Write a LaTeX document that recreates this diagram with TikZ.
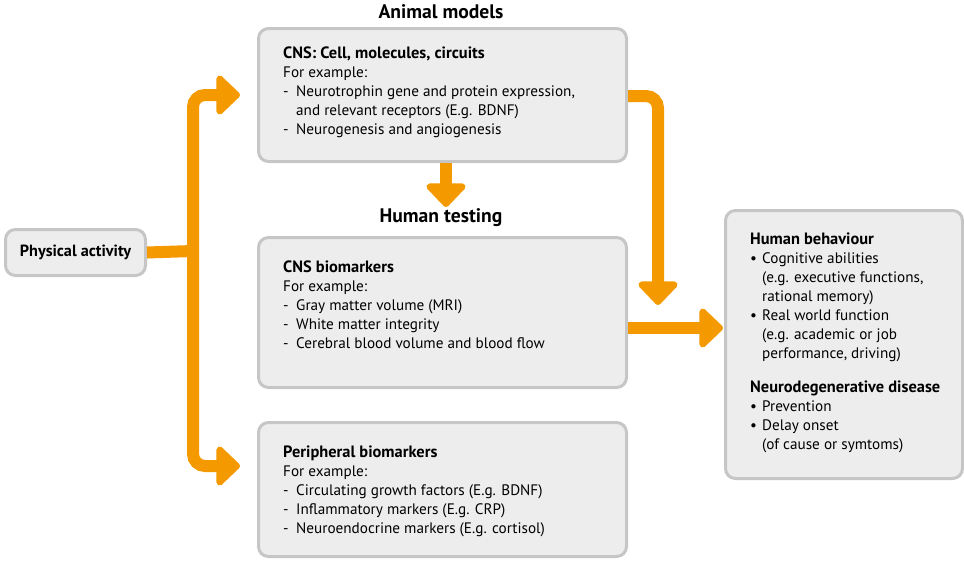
\documentclass[tikz,border=0pt]{standalone}
\usepackage{fontspec}
\setmainfont{PT Sans}
\usetikzlibrary{arrows.meta}
\definecolor{orng}{HTML}{F49A00}
\definecolor{boxline}{HTML}{C6C6C6}
\definecolor{boxfill}{HTML}{EDEDED}
\tikzset{
  box/.style={draw=boxline, line width=3pt, fill=boxfill, rounded corners=10pt, anchor=north west, inner sep=0pt},
  txt/.style={anchor=base west, align=left, inner sep=0pt, font=\fontsize{15.2}{19}\selectfont},
  ttl/.style={inner sep=0pt, font=\fontsize{19.6}{22}\selectfont\bfseries},
  flow/.style={draw=orng, line width=12pt, rounded corners=12pt},
  tip/.style={-{Triangle[width=46pt,length=25pt,round]}},
}
\newcommand{\dsh}{\makebox[13pt][l]{-}}
\newcommand{\ind}{\hspace*{13pt}}
\newcommand{\bul}{\makebox[12pt][l]{\textbullet}}
\newcommand{\indb}{\hspace*{12pt}}
\newcommand{\hd}[1]{{\fontsize{16.4}{19}\selectfont\bfseries #1}}
\begin{document}
\begin{tikzpicture}[x=1pt,y=-1pt]
\useasboundingbox (0,0) rectangle (964,560);
% boxes
\node[box, minimum width=140pt, minimum height=46pt] (phys) at (4,228) {};
\node[font=\fontsize{16.2}{17}\selectfont\bfseries, inner sep=0pt] (physt) at (phys.center) {Physical activity};
\node[box, minimum width=368pt, minimum height=133pt] (animal) at (257,27) {};
\node[box, minimum width=368pt, minimum height=150pt] (cnsb) at (257,236) {};
\node[box, minimum width=368pt, minimum height=134pt] (peri) at (257,421) {};
\node[box, minimum width=237pt, minimum height=268pt] (human) at (724,209) {};
% titles
\node[ttl] (t1) at (441,12) {Animal models};
\node[ttl] (t2) at (441,218) {Human testing};
% texts (anchored at the baseline of the last line)
\node[txt] (a1) at (283,134) {\hd{CNS: Cell, molecules, circuits}\\
For example:\\
\dsh Neurotrophin gene and protein expression,\\
\ind and relevant receptors (E.g. BDNF)\\
\dsh Neurogenesis and angiogenesis};
\node[txt] (c1) at (283,348) {\hd{CNS biomarkers}\\
For example:\\
\dsh Gray matter volume (MRI)\\
\dsh White matter integrity\\
\dsh Cerebral blood volume and blood flow};
\node[txt] (p1) at (283,533) {\hd{Peripheral biomarkers}\\
For example:\\
\dsh Circulating growth factors (E.g. BDNF)\\
\dsh Inflammatory markers (E.g. CRP)\\
\dsh Neuroendocrine markers (E.g. cortisol)};
\node[txt] (h1) at (750,449) {\hd{Human behaviour}\\
\bul Cognitive abilities\\
\indb (e.g. executive functions,\\
\indb rational memory)\\
\bul Real world function\\
\indb (e.g. academic or job\\
\indb performance, driving)\\[15pt]
\hd{Neurodegenerative disease}\\
\bul Prevention\\
\bul Delay onset\\
\indb (of cause or symtoms)};
% connectors
\coordinate (jn) at (193,251);
\coordinate (tipA) at (240,95);
\coordinate (tipP) at (240,466);
\coordinate (tipD) at (446,207);
\coordinate (tipR1) at (658,305);
\coordinate (tipR2) at (723,328);
\draw[flow] (phys.east) -- (jn);
\draw[flow, tip] (jn) |- (tipA);
\draw[flow, tip] (jn) |- (tipP);
\draw[flow, tip] (animal.south -| tipD) -- (tipD);
\draw[flow, tip] (animal.east |- 0,96) -| (tipR1);
\draw[flow, tip] (cnsb.east |- tipR2) -- (tipR2);
\end{tikzpicture}
\end{document}
